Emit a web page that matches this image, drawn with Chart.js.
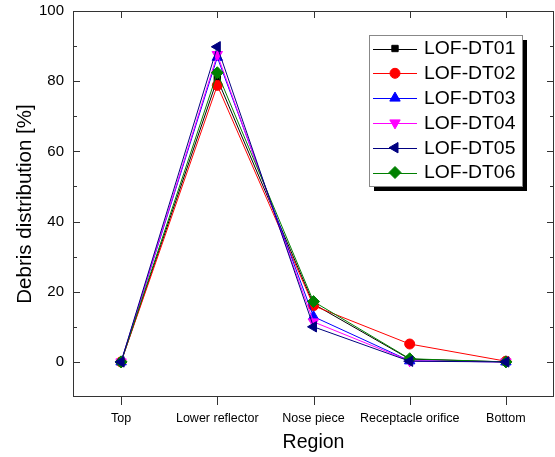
<!DOCTYPE html>
<html>
<head>
<meta charset="utf-8">
<script src="https://cdn.jsdelivr.net/npm/chart.js@4"></script>
<style>
  html, body { margin: 0; padding: 0; background: #fff; }
  #wrap { width: 555px; height: 457px; }
</style>
</head>
<body>
<div id="wrap"><canvas id="chart"></canvas></div>
<script>
const regions = ['Top', 'Lower reflector', 'Nose piece', 'Receptacle orifice', 'Bottom'];
const seriesNames = ['LOF-DT01', 'LOF-DT02', 'LOF-DT03', 'LOF-DT04', 'LOF-DT05', 'LOF-DT06'];
const dt01 = [0, 80.6, 16.5, 0.8, 0];
const dt02 = [0, 78.8, 16.0, 5.1, 0.2];
const dt03 = [0, 86.8, 12.9, 0.3, 0];
const dt04 = [0, 87.6, 11.4, 0.3, 0];
const dt05 = [0, 89.8, 10.0, 0.2, 0];
const dt06 = [0, 82.4, 17.2, 0.9, 0];
const yTicks = [0, 20, 40, 60, 80, 100];
const yMinor = [10, 30, 50, 70, 90];

const colors = ['#000000', '#ff0000', '#0000ff', '#ff00ff', '#000080', '#008000'];
const styles = ['rect', 'circle', 'triangle', 'triangle', 'triangle', 'rectRot'];
const rotations = [0, 0, 0, 180, 270, 0];
const radii = [4.5, 5, 6, 6, 6, 6];
const drawOrder = [5, 4, 3, 2, 0, 1]; // lower = drawn on top (DT05 uppermost)
const allValues = [dt01, dt02, dt03, dt04, dt05, dt06];

const font = 'Arial, "Liberation Sans", sans-serif';

const datasets = seriesNames.map((name, i) => ({
  label: name,
  data: allValues[i],
  borderColor: colors[i],
  backgroundColor: colors[i],
  borderWidth: 1,
  pointStyle: styles[i],
  pointRotation: rotations[i],
  pointRadius: radii[i],
  pointBorderWidth: 1,
  tension: 0,
  order: drawOrder[i]
}));

// frame, inward/outward ticks and the boxed legend
const framePlugin = {
  id: 'frame',
  afterDraw(chart) {
    const ctx = chart.ctx;
    const a = chart.chartArea;
    const xs = chart.scales.x, ys = chart.scales.y;
    ctx.save();
    ctx.strokeStyle = '#333';
    ctx.lineWidth = 1;
    ctx.strokeRect(a.left + 0.5, a.top + 0.5, a.right - a.left - 1, a.bottom - a.top - 1);
    ctx.beginPath();
    regions.forEach((r, i) => {
      const x = Math.round(xs.getPixelForValue(i)) + 0.5;
      ctx.moveTo(x, a.bottom); ctx.lineTo(x, a.bottom + 8);
      ctx.moveTo(x, a.top); ctx.lineTo(x, a.top + 7);
    });
    yTicks.forEach(v => {
      const y = Math.round(ys.getPixelForValue(v)) + 0.5;
      ctx.moveTo(a.left, y); ctx.lineTo(a.left + 7, y);
      ctx.moveTo(a.right, y); ctx.lineTo(a.right - 7, y);
    });
    yMinor.forEach(v => {
      const y = Math.round(ys.getPixelForValue(v)) + 0.5;
      ctx.moveTo(a.left, y); ctx.lineTo(a.left + 4, y);
      ctx.moveTo(a.right, y); ctx.lineTo(a.right - 4, y);
    });
    ctx.stroke();

    // legend box
    const bx = 369, by = 35, bw = 153, bh = 151;
    ctx.fillStyle = '#000';
    ctx.fillRect(bx + 5, by + 5, bw, bh);
    ctx.fillStyle = '#fff';
    ctx.fillRect(bx, by, bw, bh);
    ctx.strokeStyle = '#888';
    ctx.strokeRect(bx + 0.5, by + 0.5, bw, bh);
    chart.data.datasets.forEach((ds, i) => {
      const y = 48.5 + i * 24.8;
      ctx.strokeStyle = ds.borderColor;
      ctx.lineWidth = 1;
      ctx.beginPath();
      ctx.moveTo(373, Math.round(y) + 0.5);
      ctx.lineTo(417, Math.round(y) + 0.5);
      ctx.stroke();
      ctx.fillStyle = ds.backgroundColor;
      Chart.helpers.drawPoint(ctx, {
        pointStyle: ds.pointStyle, rotation: ds.pointRotation,
        radius: ds.pointRadius, borderWidth: 1
      }, 395, y);
      ctx.save();
      ctx.translate(424, y + 1);
      ctx.scale(1.075, 1);
      ctx.fillStyle = '#000';
      ctx.font = '18px ' + font;
      ctx.textBaseline = 'middle';
      ctx.textAlign = 'left';
      ctx.fillText(ds.label, 0, 0);
      ctx.restore();
    });
    ctx.restore();
  }
};

new Chart(document.getElementById('chart'), {
  type: 'line',
  data: { labels: regions, datasets: datasets },
  options: {
    responsive: true,
    maintainAspectRatio: false,
    animation: false,
    layout: { autoPadding: false, padding: { top: 11, right: 1, left: 0, bottom: 0 } },
    plugins: { legend: { display: false }, tooltip: { enabled: false } },
    scales: {
      x: {
        type: 'category',
        offset: true,
        grid: { display: false, drawTicks: false },
        border: { display: false },
        afterFit: s => { s.height = 60; s.paddingLeft = 0; s.paddingRight = 0; },
        ticks: { color: '#000', padding: 14, maxRotation: 0, autoSkip: false, font: { family: font, size: 12.5 } },
        title: { display: true, text: 'Region', color: '#000', padding: { top: 0, bottom: 3 }, font: { family: font, size: 19.5 } }
      },
      y: {
        min: -10,
        max: 100,
        afterBuildTicks: s => { s.ticks = yTicks.map(v => ({ value: v })); },
        grid: { display: false, drawTicks: false },
        border: { display: false },
        afterFit: s => { s.width = 73; s.paddingTop = 0; s.paddingBottom = 0; },
        ticks: { color: '#000', padding: 9, font: { family: font, size: 15 } },
        title: { display: true, text: 'Debris distribution [%]', color: '#000', padding: { top: 13, bottom: 0 }, font: { family: font, size: 20.5 } }
      }
    }
  },
  plugins: [framePlugin]
});
</script>
</body>
</html>
